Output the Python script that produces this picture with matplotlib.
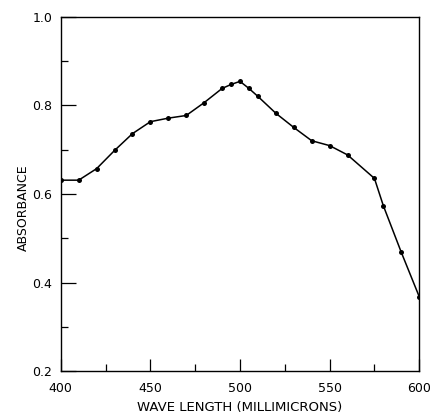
import matplotlib
matplotlib.use("Agg")
import matplotlib.pyplot as plt
from matplotlib.ticker import MultipleLocator

# absorbance spectrum
wavelength = [400, 410, 420, 430, 440, 450, 460, 470, 480, 490, 495, 500,
              505, 510, 520, 530, 540, 550, 560, 575, 580, 590, 600]
absorbance = [0.631, 0.631, 0.657, 0.698, 0.736, 0.763, 0.771, 0.777, 0.806,
              0.838, 0.847, 0.854, 0.838, 0.820, 0.782, 0.750, 0.720, 0.709,
              0.688, 0.635, 0.573, 0.468, 0.368]

xticks = [400, 450, 500, 550, 600]
yticks = [0.2, 0.4, 0.6, 0.8, 1.0]
ytick_labels = ["0.2", "0.4", "0.6", "0.8", "1.0"]

plt.rcParams['font.family'] = ['DejaVu Sans']

fig = plt.figure(figsize=(4.34, 4.17), dpi=100)
ax = fig.add_axes([0.140, 0.110, 0.826, 0.850])

ax.plot(wavelength, absorbance, color='black', lw=1.1,
        marker='o', markersize=3.6, markerfacecolor='black', markeredgewidth=0)

ax.set_xlim(400, 600)
ax.set_ylim(0.2, 1.0)
ax.set_xticks(xticks)
ax.set_yticks(yticks)
ax.set_yticklabels(ytick_labels)
ax.xaxis.set_minor_locator(MultipleLocator(25))
ax.yaxis.set_minor_locator(MultipleLocator(0.1))

ax.tick_params(which='both', direction='in', top=False, right=False,
               labelsize=9, width=0.9)
ax.tick_params(axis='x', which='major', length=9, pad=8)
ax.tick_params(axis='x', which='minor', length=5)
ax.tick_params(axis='y', which='major', length=11, pad=6)
ax.tick_params(axis='y', which='minor', length=5)

for s in ax.spines.values():
    s.set_linewidth(1.0)

ax.set_xlabel("WAVE LENGTH (MILLIMICRONS)", fontsize=9.5, labelpad=4)
ax.set_ylabel("ABSORBANCE", fontsize=9)
ax.yaxis.set_label_coords(-0.085, 0.46)

fig.savefig("out.png", dpi=100)
